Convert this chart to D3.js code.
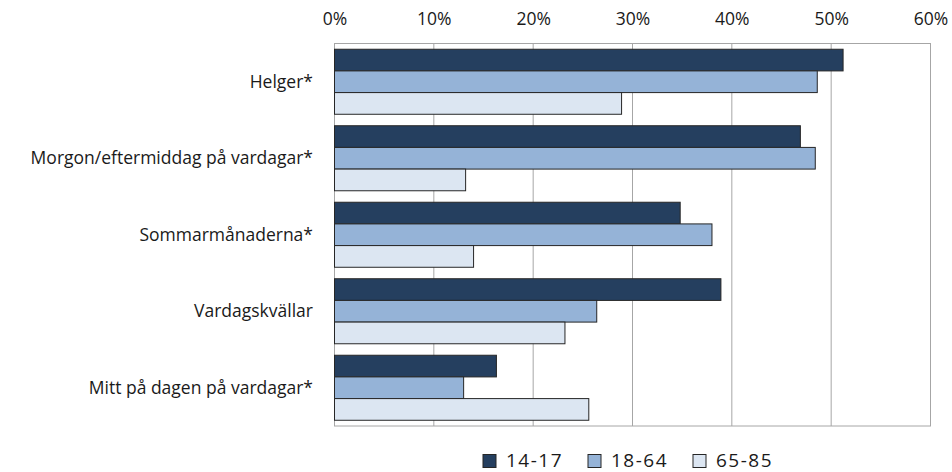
<!DOCTYPE html>
<html><head><meta charset="utf-8">
<script src="https://cdn.jsdelivr.net/npm/d3@7"></script>
<style>body{margin:0;background:#fff}svg{display:block}text{font-family:"Open Sans","Noto Sans",sans-serif;fill:#1a1a1a}</style>
</head><body><svg id="c" width="952" height="472"></svg>
<script>
const categories = ["Helger*", "Morgon/eftermiddag på vardagar*", "Sommarmånaderna*", "Vardagskvällar", "Mitt på dagen på vardagar*"];
const seriesNames = ["14-17", "18-64", "65-85"];
const s1417 = [51.2, 46.9, 34.8, 38.9, 16.3];
const s1864 = [48.6, 48.4, 38.0, 26.4, 13.0];
const s6585 = [28.9, 13.2, 14.0, 23.2, 25.6];
const tickValues = [0, 10, 20, 30, 40, 50, 60];
const colors = ["#253f5f", "#95b3d7", "#dce6f2"];

const svg = d3.select("#c");
const m = {l: 334.5, r: 930.5, t: 43.5, b: 426};
const x = d3.scaleLinear().domain([0, 60]).range([m.l, m.r]);
const y = d3.scaleBand().domain(categories).range([m.t, m.b]).paddingInner(0.15).paddingOuter(0.075);
const yi = d3.scaleBand().domain(seriesNames).range([0, y.bandwidth()]);
const series = [s1417, s1864, s6585];

// gridlines
svg.append("g").selectAll("line").data(tickValues).join("line")
  .attr("x1", d => x(d)).attr("x2", d => x(d)).attr("y1", m.t).attr("y2", m.b)
  .attr("stroke", "#a6a6a6").attr("stroke-width", 1);
svg.append("rect").attr("x", m.l).attr("y", m.t).attr("width", m.r - m.l).attr("height", m.b - m.t)
  .attr("fill", "none").attr("stroke", "#a6a6a6");

// top axis labels
const ax = d3.axisTop(x).tickValues(tickValues).tickFormat(d => d + "%").tickSize(0).tickPadding(0);
const g = svg.append("g").attr("transform", `translate(0,25)`).call(ax);
g.select(".domain").remove();
g.selectAll("text").style("font-size", "17.5px").attr("dy", 0).attr("fill", "#1a1a1a")
  .style("font-family", '"Open Sans","Noto Sans",sans-serif');

// bars
categories.forEach((c, ci) => {
  series.forEach((s, si) => {
    svg.append("rect")
      .attr("x", x(0)).attr("y", y(c) + yi(seriesNames[si]))
      .attr("width", x(s[ci]) - x(0)).attr("height", yi.bandwidth())
      .attr("fill", colors[si]).attr("stroke", "#262626").attr("stroke-width", 1);
  });
});

// category labels
svg.append("g").selectAll("text").data(categories).join("text")
  .attr("x", 313).attr("y", d => y(d) + y.bandwidth() / 2).attr("dy", "0.35em")
  .attr("text-anchor", "end").style("font-size", "17.5px").text(d => d);

// legend
const legX = [483, 588, 693];
const lg = svg.append("g");
seriesNames.forEach((n, i) => {
  lg.append("rect").attr("x", legX[i]).attr("y", 454.5).attr("width", 13).attr("height", 13)
    .attr("fill", colors[i]).attr("stroke", "#262626");
  lg.append("text").attr("x", legX[i] + 23).attr("y", 466.5)
    .style("font-size", "19px").style("letter-spacing", "1.5px").text(n);
});
</script></body></html>
